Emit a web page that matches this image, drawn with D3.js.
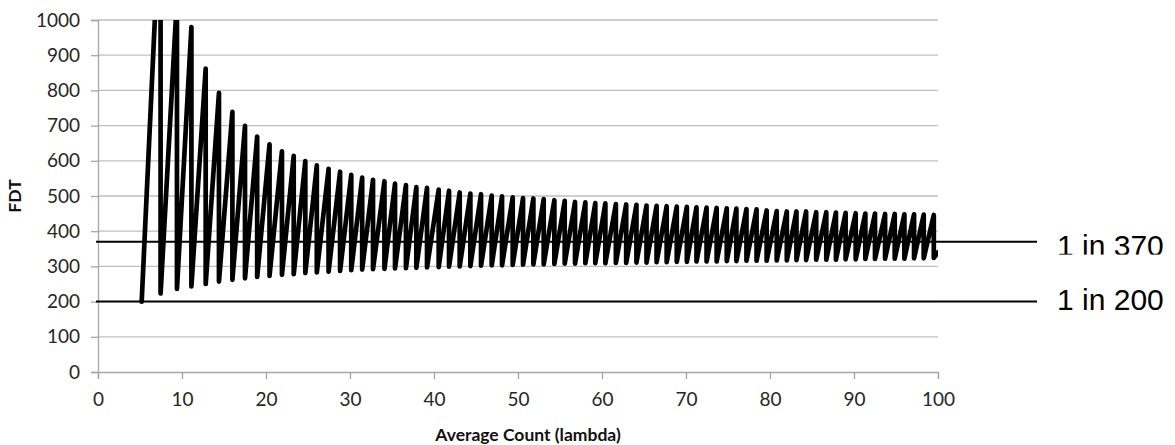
<!DOCTYPE html>
<html lang="en">
<head>
    <meta charset="UTF-8">
    <script src="https://d3js.org/d3.v7.min.js"></script>
    <style>
        body {margin: 0; background-color: #ffffff}
        svg {display: block}
        .tick text {font-family: Lato, "Open Sans", sans-serif; font-size: 19px; fill: #262626}
        .title {font-family: Lato, "Open Sans", sans-serif; font-size: 17.5px; font-weight: bold; fill: #111}
        .ref-label {font-family: "Liberation Sans", Arial, sans-serif; font-size: 30px; fill: #000}
        path.line {fill: none; stroke: #000; stroke-width: 4.7px; stroke-linejoin: round; stroke-linecap: round}
    </style>
</head>
<body>
<svg class="chart"></svg>
<script type="text/javascript">
    // lambda where each tooth drops from its peak to its trough
    const toothLambda = [7.45, 9.4, 11.12, 12.82, 14.4, 16.0, 17.5, 18.95, 20.42, 21.9, 23.3, 24.68,
        26.05, 27.45, 28.82, 30.15, 31.45, 32.74, 34.1, 35.36, 36.66, 37.9, 39.17, 40.56, 41.79, 43.06,
        44.33, 45.6, 46.87, 48.1, 49.37, 50.6, 51.83, 53.06, 54.33, 55.56, 56.79, 58.02, 59.2, 60.4,
        61.65, 62.88, 64.1, 65.3, 66.5, 67.7, 68.9, 70.1, 71.25, 72.45, 73.65, 74.85, 76.0, 77.2, 78.4,
        79.6, 80.8, 82.0, 83.15, 84.3, 85.5, 86.7, 87.85, 89.0, 90.2, 91.35, 92.5, 93.7, 94.85, 96.0,
        97.15, 98.3, 99.5];
    const peakFDT = [1350, 1060, 980, 862, 793, 739, 699, 669, 647, 627, 614, 599, 587, 577, 569, 560,
        552, 546, 542, 535, 531, 525, 523, 518, 515, 510, 507, 505, 501, 499, 496, 494, 493, 491, 488,
        486, 483, 482, 480, 479, 477, 476, 475, 473, 472, 471, 470, 469, 468, 467, 466, 465, 464, 463,
        462, 459, 457, 456, 456, 456, 454, 454, 453, 452, 451, 450, 450, 449, 449, 448, 448, 447, 446];
    const troughFDT = [223, 236, 243, 250, 257, 262, 266, 270, 273, 276, 278, 281, 283, 285, 287, 289,
        291, 292, 293, 294, 295, 296, 297, 298, 299, 300, 301, 302, 303, 303, 304, 305, 306, 306, 307,
        308, 308, 309, 309, 309, 310, 310, 311, 311, 312, 312, 313, 313, 314, 314, 314, 315, 315, 316,
        316, 316, 317, 317, 318, 318, 319, 319, 319, 320, 320, 321, 321, 322, 322, 322, 323, 323, 324];
    const startPoint = [5.2, 200];
    const endPoint = [100, 340];

    const xTicks = [0, 10, 20, 30, 40, 50, 60, 70, 80, 90, 100];
    const yTicks = [0, 100, 200, 300, 400, 500, 600, 700, 800, 900, 1000];
    const refLevels = [370, 200];
    const refLabels = ["1 in 370", "1 in 200"];
    const xTitle = "Average Count (lambda)";
    const yTitle = "FDT";

    let chart_width = 1175;
    let chart_height = 445;
    let plot_left = 98, plot_right = 938, plot_top = 20, plot_bottom = 372;
    let ref_end = 1037;
    let label_dy = [14, 8.5];   // the 370 text box sits a little low and is cut by the 200 box

    var svg = d3.select('.chart')
        .attr('width', chart_width)
        .attr('height', chart_height);

    var x_range = d3.scaleLinear().domain([0, 100]).range([plot_left, plot_right]);
    var y_range = d3.scaleLinear().domain([0, 1000]).range([plot_bottom, plot_top]);

    svg.append('defs').append('clipPath').attr('id', 'plot-clip')
        .append('rect')
        .attr('x', plot_left).attr('y', plot_top)
        .attr('width', plot_right - plot_left).attr('height', plot_bottom - plot_top);

    // horizontal gridlines
    svg.append('g').selectAll('line').data(yTicks.filter(d => d > 0)).enter().append('line')
        .attr('x1', plot_left).attr('x2', plot_right)
        .attr('y1', d => y_range(d)).attr('y2', d => y_range(d))
        .attr('stroke', '#bfbfbf').attr('stroke-width', 1.3);

    var yAxis = svg.append('g')
        .attr('transform', `translate(${plot_left},0)`)
        .call(d3.axisLeft(y_range).tickValues(yTicks).tickFormat(d3.format('d'))
            .tickSize(7).tickPadding(11));
    var xAxis = svg.append('g')
        .attr('transform', `translate(0,${plot_bottom})`)
        .call(d3.axisBottom(x_range).tickValues(xTicks).tickFormat(d3.format('d'))
            .tickSize(7).tickPadding(14));
    [yAxis, xAxis].forEach(a => {
        a.select('.domain').attr('stroke', '#a6a6a6').attr('stroke-width', 1.3);
        a.selectAll('.tick line').attr('stroke', '#a6a6a6').attr('stroke-width', 1.3);
    });

    // the sawtooth: slow climb to each peak, then a straight drop to its trough
    var points = [startPoint];
    toothLambda.forEach((l, i) => {
        points.push([l, peakFDT[i]]);
        points.push([l, troughFDT[i]]);
    });
    points.push(endPoint);

    svg.append('path')
        .attr('class', 'line')
        .attr('clip-path', 'url(#plot-clip)')
        .attr('d', d3.line()
            .x(d => x_range(d[0]))
            .y(d => y_range(d[1]))(points));

    // reference levels with their white text boxes
    refLevels.forEach((v, i) => {
        svg.append('line')
            .attr('x1', x_range(0) - 2).attr('x2', ref_end)
            .attr('y1', y_range(v)).attr('y2', y_range(v))
            .attr('stroke', '#000').attr('stroke-width', 2);
        svg.append('rect')
            .attr('x', ref_end + 12).attr('y', y_range(v) - 47)
            .attr('width', 130).attr('height', 84)
            .attr('fill', '#fff');
        svg.append('text')
            .attr('class', 'ref-label')
            .attr('x', ref_end + 20)
            .attr('y', y_range(v) + label_dy[i])
            .text(refLabels[i]);
    });

    svg.append('text')
        .attr('class', 'title')
        .attr('x', 528).attr('y', 441)
        .attr('text-anchor', 'middle')
        .text(xTitle);

    svg.append('text')
        .attr('class', 'title')
        .attr('transform', `translate(21,${(plot_top + plot_bottom) / 2}) rotate(-90)`)
        .attr('text-anchor', 'middle')
        .text(yTitle);
</script>
</body>
</html>
